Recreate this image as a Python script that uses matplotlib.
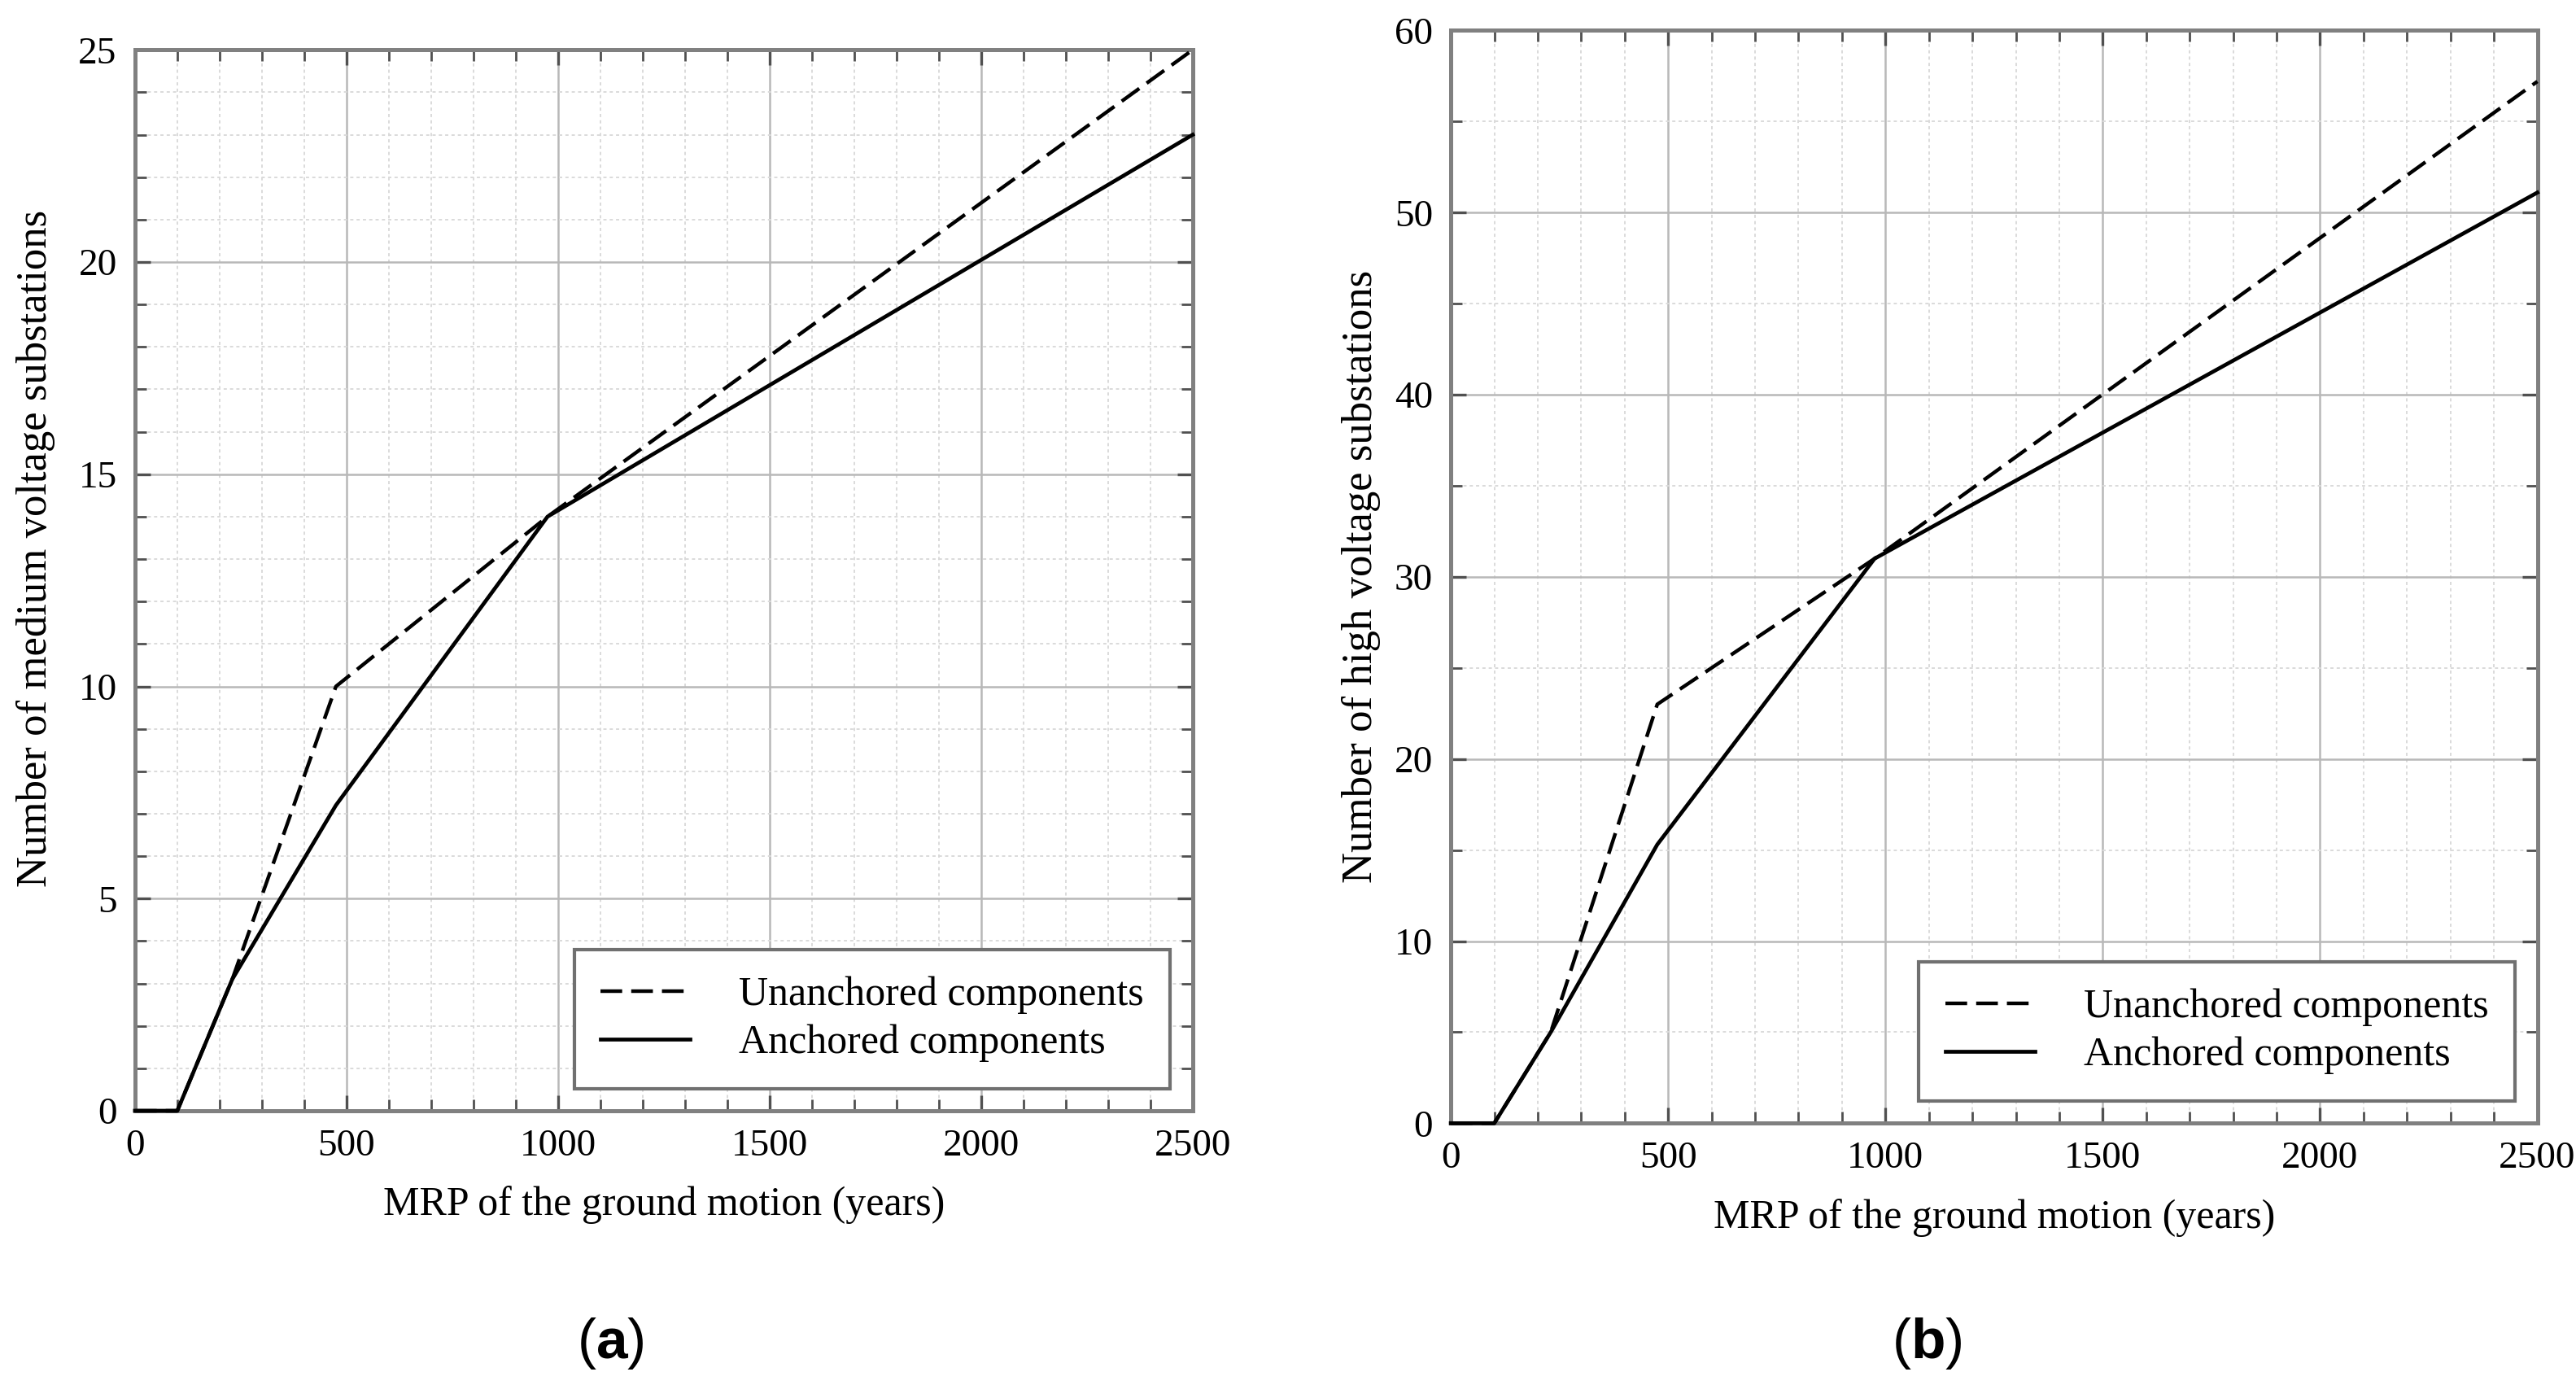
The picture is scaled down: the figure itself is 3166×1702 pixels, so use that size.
import numpy as np
import matplotlib
matplotlib.use("Agg")
import matplotlib.pyplot as plt
from matplotlib.ticker import MultipleLocator

# MRP (years) vs number of damaged substations
mrp = [0, 100, 230, 475, 975, 2500]

# (a) medium voltage substations
mv_unanchored = [0, 0, 3.1, 10.0, 14.0, 25.0]
mv_anchored = [0, 0, 3.1, 7.2, 14.0, 23.0]

# (b) high voltage substations
hv_unanchored = [0, 0, 5.0, 23.0, 31.0, 57.2]
hv_anchored = [0, 0, 5.0, 15.3, 31.0, 51.1]

xticks = [0, 500, 1000, 1500, 2000, 2500]
ylabels = ["Number of medium voltage substations", "Number of high voltage substations"]
xlabel = "MRP of the ground motion (years)"
legend_labels = ["Unanchored components", "Anchored components"]
panel_tags = ["a", "b"]

plt.rcParams['font.family'] = ['Liberation Serif', 'DejaVu Serif']
plt.rcParams['mathtext.fontset'] = 'custom'
plt.rcParams['mathtext.rm'] = 'Liberation Sans'
plt.rcParams['mathtext.bf'] = 'Liberation Sans:bold'

fig = plt.figure(figsize=(15.83, 8.51), dpi=200)
ax_a = fig.add_axes([0.0524, 0.198, 0.4106, 0.766])
ax_b = fig.add_axes([0.5632, 0.189, 0.4218, 0.789])

panels = [
    (ax_a, mv_unanchored, mv_anchored, 25, 5, 1),
    (ax_b, hv_unanchored, hv_anchored, 60, 10, 5),
]

for i, (ax, unanch, anch, ymax, ymaj, ymin) in enumerate(panels):
    ax.plot(mrp, unanch, color='black', lw=1.6, ls=(0, (6, 2.5)),
            label=legend_labels[0], clip_on=False, zorder=5)
    ax.plot(mrp, anch, color='black', lw=1.7, ls='-',
            label=legend_labels[1], clip_on=False, zorder=5)
    ax.set_xlim(0, 2500)
    ax.set_ylim(0, ymax)
    ax.set_xticks(xticks)
    ax.xaxis.set_minor_locator(MultipleLocator(100))
    ax.yaxis.set_major_locator(MultipleLocator(ymaj))
    ax.yaxis.set_minor_locator(MultipleLocator(ymin))
    ax.grid(which='major', color='#b8b8b8', lw=0.9, ls='-')
    ax.grid(which='minor', color='#dadada', lw=0.7, ls=(0, (2, 2)))
    ax.set_axisbelow(True)
    ax.tick_params(which='both', direction='in', top=True, right=True,
                   color='#505050', labelsize=17, pad=8)
    ax.tick_params(which='major', length=7, width=1.2)
    ax.tick_params(which='minor', length=5, width=1.0)
    for s in ax.spines.values():
        s.set_color('#808080')
        s.set_linewidth(1.8)
    ax.set_xlabel(xlabel, fontsize=18, labelpad=10)
    ax.set_ylabel(ylabels[i], fontsize=19, labelpad=6)
    leg = ax.legend(loc='lower right', bbox_to_anchor=(1.0, 0.0),
                    fontsize=18, frameon=True, fancybox=False, framealpha=1,
                    edgecolor='#707070', handlelength=2.2, handletextpad=1.2,
                    borderpad=0.65, labelspacing=0.25, borderaxespad=0.55)
    leg.get_frame().set_linewidth(1.5)

ax_a.yaxis.set_label_coords(-0.075, 0.53)

fig.text(0.237, 0.03, r"($\mathbf{a}$)", fontsize=25, ha='center', va='center',
         family=['Liberation Sans'])
fig.text(0.748, 0.03, r"($\mathbf{b}$)", fontsize=25, ha='center', va='center',
         family=['Liberation Sans'])

fig.savefig("out.png", dpi=200, facecolor='white')
